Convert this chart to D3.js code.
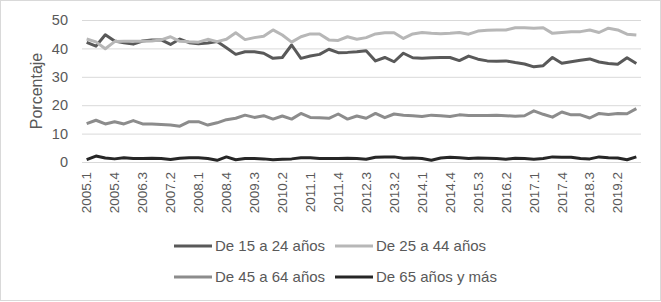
<!DOCTYPE html>
<html>
<head>
<meta charset="utf-8">
<script src="https://cdn.jsdelivr.net/npm/d3@7"></script>
<style>
	body{margin:0;background:#fff;}
	text{font-family:"Liberation Sans", Arial, sans-serif;fill:#595959;}
</style>
</head>
<body>
<div id="c-svg-01"></div>
<script>

//data
let quarters = [];
for(let y = 2005; y <= 2019; y++){
	for(let q = 1; q <= 4; q++){ quarters.push(y + "." + q); }
}

let seriesNames = ["De 15 a 24 años", "De 25 a 44 años", "De 45 a 64 años", "De 65 años y más"];

let v15a24 = [42.1, 40.8, 44.8, 42.6, 42.0, 41.5, 42.6, 43.0, 43.0, 41.4,
	43.3, 42.0, 41.6, 41.9, 42.4, 40.2, 37.9, 38.8, 38.8, 38.3,
	36.5, 36.8, 41.2, 36.5, 37.3, 37.9, 39.7, 38.5, 38.6, 38.8,
	39.2, 35.6, 36.8, 35.3, 38.3, 36.7, 36.5, 36.7, 36.8, 36.8,
	35.7, 37.3, 36.2, 35.6, 35.5, 35.6, 35.0, 34.5, 33.5, 33.9,
	36.8, 34.8, 35.3, 35.8, 36.3, 35.2, 34.7, 34.4, 36.7, 34.7];

let v25a44 = [43.3, 42.3, 39.9, 42.4, 42.5, 42.5, 42.5, 42.6, 43.0, 44.1,
	42.5, 42.3, 42.2, 43.2, 42.4, 43.2, 45.5, 43.1, 43.8, 44.3,
	46.5, 44.7, 42.2, 44.1, 45.1, 45.1, 43.0, 42.8, 44.1, 43.2,
	43.8, 45.1, 45.5, 45.5, 43.5, 45.1, 45.6, 45.3, 45.2, 45.3,
	45.6, 45.0, 46.1, 46.4, 46.5, 46.5, 47.3, 47.3, 47.1, 47.3,
	45.3, 45.6, 45.9, 45.9, 46.5, 45.6, 47.1, 46.5, 45.0, 44.7];

let v45a64 = [13.5, 14.7, 13.4, 14.2, 13.4, 14.6, 13.4, 13.4, 13.2, 13.0,
	12.6, 14.2, 14.2, 13.0, 13.8, 14.9, 15.4, 16.5, 15.7, 16.3,
	15.1, 16.2, 15.1, 17.1, 15.7, 15.6, 15.4, 16.9, 15.1, 16.2,
	15.4, 17.1, 15.6, 16.9, 16.5, 16.3, 16.0, 16.5, 16.3, 16.0,
	16.6, 16.4, 16.4, 16.4, 16.5, 16.3, 16.1, 16.3, 18.0, 16.8,
	15.8, 17.6, 16.6, 16.6, 15.5, 17.1, 16.7, 17.1, 17.0, 18.8];

let v65ymas = [0.8, 2.1, 1.4, 1.1, 1.5, 1.2, 1.2, 1.3, 1.2, 0.9,
	1.3, 1.5, 1.5, 1.2, 0.6, 1.8, 0.8, 1.2, 1.2, 1.1,
	0.8, 1.0, 1.1, 1.5, 1.5, 1.2, 1.2, 1.2, 1.3, 1.2,
	1.0, 1.7, 1.8, 1.8, 1.3, 1.4, 1.2, 0.6, 1.4, 1.7,
	1.5, 1.2, 1.4, 1.3, 1.2, 1.0, 1.3, 1.2, 1.0, 1.2,
	1.8, 1.7, 1.7, 1.2, 1.1, 1.8, 1.5, 1.4, 0.8, 1.8];

let yTicks = [0, 10, 20, 30, 40, 50];


function graph1(){

	//sizing
	const width = 661;
	const height = 302;
	let margin = {top:20, right:20, bottom:140, left:82};

	let svg = d3.select("#c-svg-01")
		.append("svg")
		.attr("width", width)
		.attr("height", height);

	//chart border
	svg.append("rect")
		.attr("x", 0.5)
		.attr("y", 0.5)
		.attr("width", width - 1)
		.attr("height", height - 2)
		.attr("fill", "#fff")
		.attr("stroke", "#d9d9d9");

	let x = d3.scaleBand()
		.domain(quarters)
		.range([margin.left, width - margin.right])
		.padding(0);

	let y = d3.scaleLinear()
		.domain([0, 50])
		.range([height - margin.bottom, margin.top]);

	let colors = d3.scaleOrdinal()
		.domain(seriesNames)
		.range(["#595959", "#b7b7b7", "#8c8c8c", "#262626"]);

	//gridlines + y labels
	let yAxis = svg.append("g")
		.attr("transform", "translate(" + margin.left + ",0)")
		.call(d3.axisLeft(y).tickValues(yTicks).tickSize(-(width - margin.right - margin.left)).tickPadding(14));

	yAxis.select(".domain").remove();
	yAxis.selectAll("line").attr("stroke", "#d9d9d9");
	yAxis.selectAll("text").style("font-size", "14.5px").attr("fill", "#595959");

	//x labels, every 3rd quarter
	let xAxis = svg.append("g")
		.attr("transform", "translate(0," + y(0) + ")")
		.call(d3.axisBottom(x).tickValues(quarters.filter((d, i) => i % 3 == 0)).tickSize(0));

	xAxis.select(".domain").remove();
	xAxis.selectAll("text")
		.style("font-size", "13.5px")
		.attr("fill", "#595959")
		.attr("transform", "rotate(-90)")
		.attr("text-anchor", "end")
		.attr("dy", "0.35em")
		.attr("x", -10)
		.attr("y", 0);

	//y title
	svg.append("text")
		.attr("transform", "translate(42," + ((y(0) + y(50)) / 2) + ") rotate(-90)")
		.attr("text-anchor", "middle")
		.style("font-size", "16px")
		.attr("fill", "#262626")
		.text("Porcentaje");

	let series = [v15a24, v25a44, v45a64, v65ymas];

	let line = d3.line()
		.x((d, i) => x(quarters[i]) + x.bandwidth() / 2)
		.y((d) => y(d));

	series.forEach(function(values, k){
		svg.append("path")
			.datum(values)
			.attr("fill", "none")
			.attr("stroke", colors(seriesNames[k]))
			.attr("stroke-width", 3)
			.attr("stroke-linejoin", "round")
			.attr("d", line);
	});

	//legend
	let legendPos = [[174, 246], [335, 246], [174, 277], [335, 277]];

	seriesNames.forEach(function(name, k){
		let lg = svg.append("g")
			.attr("transform", "translate(" + legendPos[k][0] + "," + legendPos[k][1] + ")");

		lg.append("line")
			.attr("x1", 0)
			.attr("x2", 38)
			.attr("y1", 0)
			.attr("y2", 0)
			.attr("stroke", colors(name))
			.attr("stroke-width", 3);

		lg.append("text")
			.attr("x", 41)
			.attr("y", 0)
			.attr("dy", "0.35em")
			.style("font-size", "15px")
			.attr("fill", "#595959")
			.text(name);
	});

} //function graph1

graph1();

</script>
</body>
</html>
